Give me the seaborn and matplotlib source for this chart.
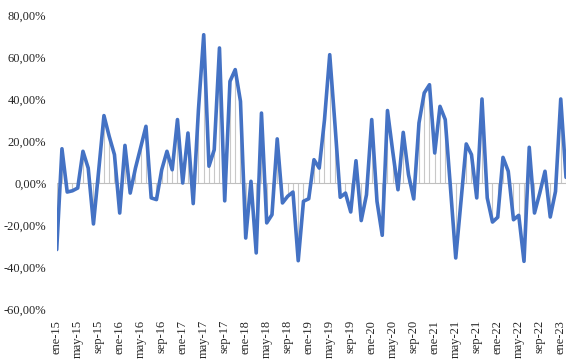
import numpy as np
import pandas as pd
import seaborn as sns
import matplotlib.pyplot as plt
from matplotlib.ticker import FuncFormatter, FixedLocator

# monthly variation (%), ene-15 .. feb-23
values = [
    -31.7, 16.3, -4.3, -3.7, -2.4, 15.1, 7.1, -19.5, 6.0, 32.1, 22.2, 13.5,   # 2015
    -14.3, 17.9, -4.8, 7.1, 17.0, 27.0, -7.1, -7.9, 6.3, 15.1, 6.3, 30.2,     # 2016
    0.0, 23.8, -9.8, 35.0, 70.6, 8.0, 15.8, 64.3, -8.5, 48.4, 54.0, 38.9,     # 2017
    -26.2, 0.8, -33.3, 33.3, -19.0, -15.1, 21.0, -9.5, -6.3, -4.3, -37.0, -8.7,  # 2018
    -7.5, 11.1, 7.1, 30.0, 61.1, 27.8, -6.8, -4.8, -13.8, 10.6, -17.9, -5.6,  # 2019
    30.2, -8.7, -24.9, 34.5, 15.0, -3.2, 24.1, 4.0, -7.6, 28.6, 42.9, 46.8,   # 2020
    14.3, 36.5, 30.2, -2.4, -35.7, -8.7, 18.6, 13.5, -7.1, 40.0, -7.1, -18.6, # 2021
    -16.3, 12.2, 5.6, -17.5, -15.4, -37.3, 17.0, -14.3, -4.8, 5.6, -16.2, -4.0,  # 2022
    40.0, 2.7,                                                                 # 2023
]
months = ['ene', 'feb', 'mar', 'abr', 'may', 'jun', 'jul', 'ago', 'sep', 'oct', 'nov', 'dic']
years = list(range(15, 24))
labels = [f'{m}-{y}' for y in years for m in months][:len(values)]
y_ticks = [-60, -40, -20, 0, 20, 40, 60, 80]

df = pd.DataFrame({'idx': np.arange(len(values)), 'val': values, 'label': labels})

sns.set_style('white')
plt.rcParams['font.family'] = ['Liberation Serif', 'DejaVu Serif']

W, H = 580, 361
fig = plt.figure(figsize=(W / 100, H / 100), dpi=100)
ax = fig.add_axes([56.7 / W, 1 - 309 / H, (566 - 56.7) / W, (309 - 15) / H])

# drop lines to zero
ax.vlines(df['idx'], 0, df['val'], color='#c8c8c8', linewidth=0.8, zorder=1)
ax.axhline(0, color='#bfbfbf', linewidth=0.8, zorder=1)

sns.lineplot(data=df, x='idx', y='val', color='#4472c4', linewidth=2.6, ax=ax, zorder=3)

ax.set_xlim(0, len(values) - 1)
ax.set_ylim(-60, 80)
ax.set_xlabel('')
ax.set_ylabel('')

tick_pos = df['idx'][::4].tolist()
ax.xaxis.set_major_locator(FixedLocator(tick_pos))
ax.set_xticklabels(df['label'][::4], rotation=90, fontsize=9, color='#262626')
ax.yaxis.set_major_locator(FixedLocator(y_ticks))
ax.yaxis.set_major_formatter(FuncFormatter(lambda v, p: f'{v:.2f}%'.replace('.', ',')))
ax.tick_params(axis='y', labelsize=9, labelcolor='#262626', pad=7.5, length=0)
ax.tick_params(axis='x', pad=8, length=0)

for s in ax.spines.values():
    s.set_visible(False)

fig.savefig('out.png', dpi=100)
